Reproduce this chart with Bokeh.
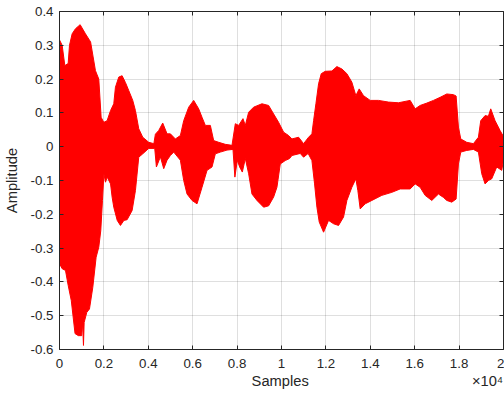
from bokeh.plotting import figure
from bokeh.models import Range1d, LinearAxis, FixedTicker, CustomJSTickFormatter
from bokeh.embed import file_html
from bokeh.resources import INLINE

# Envelope of the waveform (sample index, amplitude)
upper_x = [0, 120, 240, 390, 450, 570, 720, 930, 1170, 1400, 1620, 1770, 1875, 1995, 2145,
           2300, 2445, 2520, 2670, 2820, 2970, 3120, 3300, 3420, 3570, 3750, 4020, 4250, 4320,
           4470, 4650, 4845, 4995, 5220, 5445, 5595, 5820, 6045, 6270, 6420, 6570, 6795, 6945,
           7170, 7470, 7770, 7920, 8070, 8265, 8370, 8520, 8745, 9120, 9420, 9645, 9870, 10095,
           10320, 10470, 10770, 10995, 11220, 11370, 11445, 11550, 11670, 11790, 11970, 12270,
           12495, 12720, 12945, 13170, 13350, 13500, 13695, 13995, 14370, 14820, 15270, 15795,
           16020, 16245, 16545, 16845, 17145, 17445, 17745, 17865, 17970, 18075, 18345, 18645,
           18870, 18975, 19170, 19320, 19425, 19620, 19845, 20000]
upper_y = [0.316, 0.30, 0.24, 0.246, 0.30, 0.334, 0.349, 0.361, 0.334, 0.31, 0.225, 0.20, 0.087,
           0.072, 0.077, 0.107, 0.127, 0.176, 0.206, 0.21, 0.19, 0.166, 0.137, 0.107, 0.053, 0.028,
           0.013, 0.009, 0.037, 0.048, 0.07, 0.038, 0.038, 0.023, 0.033, 0.077, 0.117, 0.137, 0.112,
           0.087, 0.063, 0.063, 0.018, 0.013, 0.007, 0.004, 0.068, 0.063, 0.083, 0.063, 0.102, 0.117,
           0.127, 0.122, 0.097, 0.072, 0.043, 0.033, 0.023, 0.028, 0.009, 0.028, 0.038, 0.077, 0.127,
           0.186, 0.216, 0.223, 0.224, 0.237, 0.23, 0.216, 0.191, 0.151, 0.171, 0.151, 0.137, 0.137,
           0.132, 0.13, 0.137, 0.112, 0.122, 0.129, 0.137, 0.146, 0.156, 0.154, 0.15, 0.058, 0.023,
           0.013, 0.009, 0.028, 0.077, 0.092, 0.09, 0.112, 0.077, 0.048, 0.03]

lower_x = [0, 120, 270, 390, 530, 700, 850, 1000, 1040, 1080, 1110, 1230, 1350, 1500, 1650, 1770,
           1860, 1935, 2000, 2070, 2150, 2300, 2370, 2445, 2600, 2745, 2900, 3045, 3270, 3420,
           3570, 3750, 4020, 4290, 4365, 4545, 4695, 4845, 4995, 5145, 5445, 5595, 5745, 5970,
           6195, 6420, 6645, 6870, 7020, 7245, 7545, 7815, 7900, 8010, 8115, 8235, 8370, 8520,
           8670, 8895, 9195, 9420, 9645, 9795, 9945, 10170, 10365, 10470, 10845, 10995, 11200,
           11370, 11490, 11595, 11700, 11895, 12120, 12345, 12570, 12795, 12945, 13170, 13350,
           13440, 13545, 13770, 14070, 14520, 14970, 15345, 15795, 16020, 16245, 16470, 16770,
           17070, 17295, 17445, 17670, 17865, 17970, 18075, 18345, 18645, 18870, 19020, 19170,
           19320, 19470, 19695, 19920, 20000]
lower_y = [-0.346, -0.361, -0.366, -0.41, -0.455, -0.553, -0.559, -0.559, -0.52, -0.588, -0.52,
           -0.49, -0.48, -0.416, -0.327, -0.297, -0.248, -0.159, -0.08, -0.105, -0.09, -0.11,
           -0.149, -0.179, -0.218, -0.233, -0.218, -0.216, -0.189, -0.13, -0.031, -0.021, -0.005,
           -0.005, -0.06, -0.03, -0.065, -0.04, -0.026, -0.016, -0.04, -0.1, -0.14, -0.159, -0.169,
           -0.12, -0.07, -0.06, -0.021, -0.016, -0.01, -0.008, -0.09, -0.04, -0.06, -0.075, -0.035,
           -0.08, -0.14, -0.159, -0.179, -0.175, -0.149, -0.12, -0.051, -0.041, -0.035, -0.026,
           -0.02, -0.031, -0.02, -0.041, -0.11, -0.179, -0.223, -0.253, -0.218, -0.228, -0.233,
           -0.208, -0.159, -0.12, -0.095, -0.13, -0.184, -0.169, -0.159, -0.144, -0.135, -0.125,
           -0.125, -0.11, -0.12, -0.144, -0.159, -0.14, -0.15, -0.159, -0.164, -0.155, -0.051,
           -0.016, -0.011, -0.008, -0.016, -0.08, -0.11, -0.1, -0.095, -0.06, -0.07, -0.04]

x_ticks = [0, 2000, 4000, 6000, 8000, 10000, 12000, 14000, 16000, 18000, 20000]
y_ticks = [-0.6, -0.5, -0.4, -0.3, -0.2, -0.1, 0.0, 0.1, 0.2, 0.3, 0.4]
x_label = "Samples"
x_exponent = "×10\u2074"

FONT = "Liberation Sans"
DARK = "#262626"
NB = "\u00a0"

p = figure(width=504, height=394, output_backend="svg", toolbar_location=None,
           x_range=Range1d(0, 20000), y_range=Range1d(-0.6, 0.4),
           min_border_left=59, min_border_right=1, min_border_top=11, min_border_bottom=45,
           outline_line_color=None, background_fill_color="white", border_fill_color="white")

poly_x = upper_x + lower_x[::-1]
poly_y = upper_y + lower_y[::-1]
p.patch(poly_x, poly_y, fill_color="#ff0000", line_color="#ff0000", line_width=1)

xfmt = CustomJSTickFormatter(code="""
if (Math.abs(tick) < 1e-9) return "0";
return (tick/1e4).toFixed(1).replace(/\\.0$/, "");
""")
yfmt = CustomJSTickFormatter(code="""
if (Math.abs(tick) < 1e-9) return "0";
return tick.toFixed(1);
""")
blankfmt = CustomJSTickFormatter(code='return "";')

def style_axis(ax):
    ax.axis_line_color = DARK
    ax.major_tick_line_color = DARK
    ax.major_tick_in = 4
    ax.major_tick_out = 0
    ax.minor_tick_line_color = None
    ax.major_label_text_font = FONT
    ax.major_label_text_color = DARK
    ax.major_label_text_font_size = "13.3px"
    ax.axis_label_text_font = FONT
    ax.axis_label_text_color = DARK
    ax.axis_label_text_font_style = "normal"
    ax.axis_label_text_font_size = "14.7px"

xa = p.xaxis[0]
xa.ticker = FixedTicker(ticks=x_ticks)
xa.formatter = xfmt
# "Samples" stays centred under the frame; the exponent sits at the right end
xa.axis_label = NB * 47 + x_label + NB * 40 + x_exponent
xa.major_label_standoff = 9
xa.axis_label_standoff = 2
style_axis(xa)

ya = p.yaxis[0]
ya.ticker = FixedTicker(ticks=y_ticks)
ya.formatter = yfmt
ya.axis_label = "Amplitude"
ya.major_label_standoff = 6
ya.axis_label_standoff = 8
style_axis(ya)

top = LinearAxis(ticker=FixedTicker(ticks=x_ticks), formatter=blankfmt, major_label_standoff=0)
style_axis(top)
p.add_layout(top, "above")
right = LinearAxis(ticker=FixedTicker(ticks=y_ticks), formatter=blankfmt, major_label_standoff=0)
style_axis(right)
p.add_layout(right, "right")

for g in (p.xgrid[0], p.ygrid[0]):
    g.grid_line_color = DARK
    g.grid_line_alpha = 0.15
p.xgrid[0].ticker = FixedTicker(ticks=x_ticks)
p.ygrid[0].ticker = FixedTicker(ticks=y_ticks)

open("out.html", "w").write(file_html(p, INLINE))
